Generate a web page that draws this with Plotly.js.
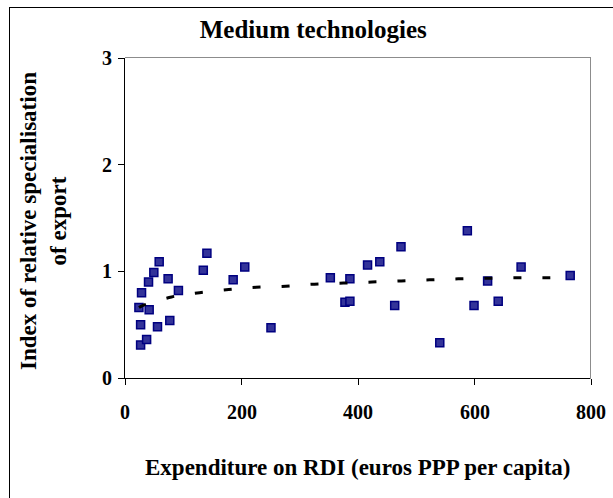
<!DOCTYPE html>
<html>
<head>
<meta charset="utf-8">
<script src="https://cdn.plot.ly/plotly-3.0.1.min.js"></script>
<style>
html,body{margin:0;padding:0;background:#fff;overflow:hidden;}
#wrap{position:relative;width:613px;height:498px;}
#chart{width:613px;height:498px;}
#frame{position:absolute;left:9px;top:7px;width:640px;height:540px;border-left:1.5px solid #000;border-top:1.5px solid #000;pointer-events:none;}
#plotbox{position:absolute;left:125px;top:57px;width:465px;height:321px;border-top:1.5px solid #8c8c8c;border-right:1.5px solid #8c8c8c;pointer-events:none;}
</style>
</head>
<body>
<div id="wrap">
<div id="chart"></div>
<div id="frame"></div>
<div id="plotbox"></div>
</div>
<script>
// Country points: RDI expenditure (euros PPP per capita) vs index of relative export specialisation
const rdiSpend = [23.9, 26.8, 26.8, 28.4, 37.1, 40.4, 41.5, 49.5, 55.8, 58.7, 74, 76.9, 91.7,
  134.4, 140.6, 185.7, 205.6, 250.6, 352.5, 377.6, 386.1, 386.1, 416.4, 437.4, 463, 473.8,
  540.4, 587.7, 599.2, 622.5, 640.7, 680, 764.3];
const exportIndex = [0.66, 0.50, 0.31, 0.80, 0.36, 0.90, 0.64, 0.99, 0.48, 1.09, 0.93, 0.54, 0.82,
  1.01, 1.17, 0.92, 1.04, 0.47, 0.94, 0.71, 0.72, 0.93, 1.06, 1.09, 0.68, 1.23,
  0.33, 1.38, 0.68, 0.91, 0.72, 1.04, 0.96];
// Trend line
const trendX = [24, 31, 80, 128, 178, 225, 276, 325, 375, 424, 474, 523, 572, 621, 671, 720, 766];
const trendY = [0.66, 0.68, 0.76, 0.80, 0.83, 0.85, 0.86, 0.88, 0.89, 0.90, 0.91, 0.92, 0.93, 0.935, 0.94, 0.94, 0.945];
const xTicks = [0, 200, 400, 600, 800];
const yTicks = [0, 1, 2, 3];
const xTitle = 'Expenditure on RDI (euros PPP per capita)';
const yTitle = 'Index of relative specialisation<br>of export';
const chartTitle = 'Medium technologies';

const F = 'Liberation Serif';
const FT = '"Times New Roman", "Liberation Serif", "DejaVu Serif", serif';
const tickFont = {family: FT, size: 20, color: '#000000', weight: 'bold'};
const titleFont = {family: F, size: 23, color: '#000000', weight: 'bold'};

const traces = [
  {
    type: 'scatter', mode: 'markers', x: rdiSpend, y: exportIndex,
    marker: {symbol: 'square', size: 8, color: '#333399', line: {color: '#000080', width: 1.5}},
    hoverinfo: 'skip', showlegend: false
  },
  {
    type: 'scatter', mode: 'lines', x: trendX, y: trendY,
    line: {color: '#000000', width: 3, dash: '8px,21px', shape: 'spline'},
    hoverinfo: 'skip', showlegend: false
  }
];

const annotations = [];
xTicks.forEach(v => annotations.push({
  xref: 'x', yref: 'paper', x: v, y: 0, text: String(v), showarrow: false,
  xanchor: 'center', yanchor: 'middle', yshift: -34, font: tickFont
}));
yTicks.forEach(v => annotations.push({
  xref: 'paper', yref: 'y', x: 0, y: v, text: String(v), showarrow: false,
  xanchor: 'right', yanchor: 'middle', xshift: -11, font: tickFont
}));
annotations.push({
  xref: 'paper', yref: 'paper', x: 0.5, y: 0, text: xTitle, showarrow: false,
  xanchor: 'center', yanchor: 'middle', yshift: -89, font: titleFont
});
annotations.push({
  xref: 'paper', yref: 'paper', x: 0, y: 0.5, text: yTitle, showarrow: false,
  textangle: -90, xanchor: 'center', yanchor: 'middle', xshift: -82, yshift: -3, font: titleFont
});

const axisBase = {
  showgrid: false, zeroline: false, showline: true, linecolor: '#000000', linewidth: 1,
  ticks: 'outside', ticklen: 6, tickcolor: '#000000', tickwidth: 1,
  showticklabels: false, tickmode: 'array'
};

const layout = {
  width: 613, height: 498,
  margin: {l: 125, r: 22, t: 58, b: 120},
  paper_bgcolor: '#ffffff', plot_bgcolor: '#ffffff',
  showlegend: false,
  font: {family: F, size: 20, color: '#000000', weight: 'bold'},
  title: {
    text: chartTitle,
    font: {family: F, size: 25, color: '#000000', weight: 'bold'},
    xref: 'container', x: 0.511, xanchor: 'center',
    yref: 'container', y: 0.942, yanchor: 'middle'
  },
  xaxis: Object.assign({}, axisBase, {range: [0, 800], tickvals: xTicks}),
  yaxis: Object.assign({}, axisBase, {range: [0, 3], tickvals: yTicks}),
  annotations: annotations
};

Plotly.newPlot('chart', traces, layout, {displayModeBar: false});
</script>
</body>
</html>
